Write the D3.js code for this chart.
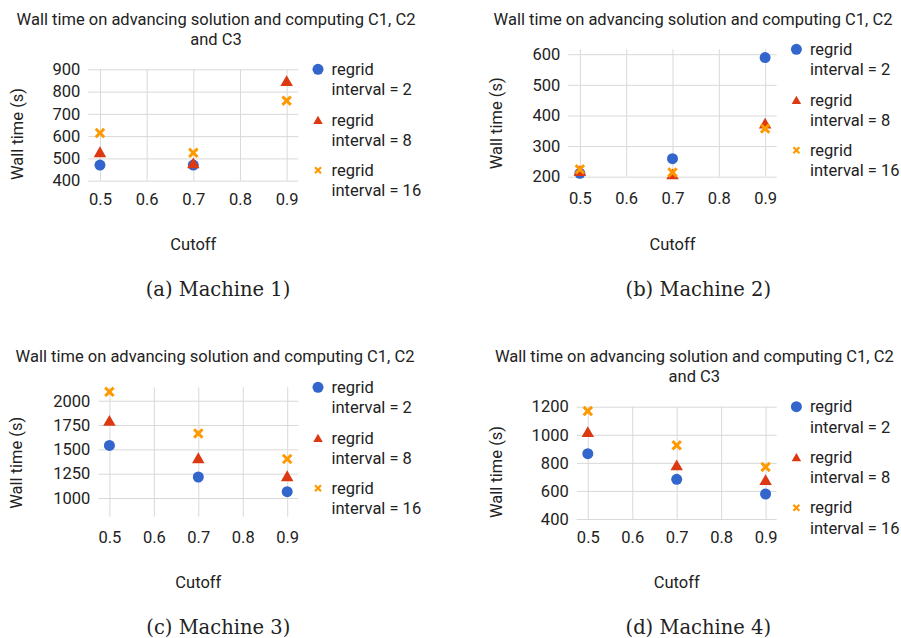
<!DOCTYPE html>
<html>
<head>
<meta charset="utf-8">
<script src="https://cdn.jsdelivr.net/npm/d3@7"></script>
<style>
    body { margin: 0; background: #fff; }
    svg text { font-family: Roboto, sans-serif; fill: #222; }
    svg .caption { font-family: "DejaVu Serif", serif; fill: #222; }
</style>
</head>
<body>
<svg id="chart" width="901" height="638"></svg>
<script>
// Shared x values and legend entries
const cutoffs = [0.5, 0.7, 0.9];
const xTicks = [0.5, 0.6, 0.7, 0.8, 0.9];
const xDomain = [0.475, 0.925];
const legendLines = [
    ["regrid", "interval = 2"],
    ["regrid", "interval = 8"],
    ["regrid", "interval = 16"]
];
const titleLong = ["Wall time on advancing solution and computing C1, C2", "and C3"];
const titleShort = ["Wall time on advancing solution and computing C1, C2"];

// Machine 1
const m1Regrid2 = [470, 470, null];
const m1Regrid8 = [530, 480, 849];
const m1Regrid16 = [614, 525, 759];
const m1Ticks = [400, 500, 600, 700, 800, 900];
const m1Domain = [400, 900];

// Machine 2
const m2Regrid2 = [211, 259, 589];
const m2Regrid8 = [220, 209, 375];
const m2Regrid16 = [224, 214, 357];
const m2Ticks = [200, 300, 400, 500, 600];
const m2Domain = [200, 616];

// Machine 3
const m3Regrid2 = [1541, 1216, 1065];
const m3Regrid8 = [1798, 1414, 1229];
const m3Regrid16 = [2092, 1664, 1401];
const m3Ticks = [1000, 1250, 1500, 1750, 2000];
const m3Domain = [808, 2138];

// Machine 4
const m4Regrid2 = [865, 683, 578];
const m4Regrid8 = [1022, 785, 680];
const m4Regrid16 = [1169, 925, 771];
const m4Ticks = [400, 600, 800, 1000, 1200];
const m4Domain = [400, 1200];

const captions = ["(a) Machine 1)", "(b) Machine 2)", "(c) Machine 3)", "(d) Machine 4)"];

const colors = ["#3366cc", "#dc3912", "#ff9900"];
const fontSize = 16.5;

// triangle centred on its bounding box, size = side^2
const triangleBox = {
    draw(context, size) {
        const s = Math.sqrt(size), h = s * 0.866;
        context.moveTo(0, -h / 2);
        context.lineTo(s / 2, h / 2);
        context.lineTo(-s / 2, h / 2);
        context.closePath();
    }
};

// diagonal cross, size = bounding box width^2
const crossX = {
    draw(context, size) {
        const half = Math.sqrt(size) / 2 * Math.SQRT2;
        const t = half * 0.2, L = half - t;
        const pts = [[-L, -t], [-t, -t], [-t, -L], [t, -L], [t, -t], [L, -t],
                     [L, t], [t, t], [t, L], [-t, L], [-t, t], [-L, t]];
        pts.forEach(([x, y], i) => {
            const px = (x - y) / Math.SQRT2, py = (x + y) / Math.SQRT2;
            if (i) context.lineTo(px, py); else context.moveTo(px, py);
        });
        context.closePath();
    }
};

const markerTypes = [d3.symbolCircle, triangleBox, crossX];
const markerSizes = [Math.PI * 5.5 * 5.5, 12.5 * 12.5, 10.5 * 10.5];
const legendSizes = [Math.PI * 5.5 * 5.5, 9.5 * 9.5, 7.5 * 7.5];

const panels = [
    { series: [m1Regrid2, m1Regrid8, m1Regrid16], ticks: m1Ticks, domain: m1Domain, title: titleLong,
      left: 88.3, right: 298.3, top: 69.3, bottom: 180.7, titleX: 216, titleY: 19,
      yTitleX: 17, yTitleY: 134, xPad: 12.4, cutoffY: 244, capX: 218, capY: 290 },
    { series: [m2Regrid2, m2Regrid8, m2Regrid16], ticks: m2Ticks, domain: m2Domain, title: titleShort,
      left: 568.3, right: 776.7, top: 49.3, bottom: 176.7, titleX: 693, titleY: 19,
      yTitleX: 496.7, yTitleY: 123.3, xPad: 15.7, cutoffY: 244.3, capX: 698.3, capY: 290 },
    { series: [m3Regrid2, m3Regrid8, m3Regrid16], ticks: m3Ticks, domain: m3Domain, title: titleShort,
      left: 98.3, right: 298.3, top: 387.3, bottom: 516.7, titleX: 215, titleY: 356.7,
      yTitleX: 16.7, yTitleY: 462.8, xPad: 14.1, cutoffY: 582.3, capX: 218.3, capY: 627.7 },
    { series: [m4Regrid2, m4Regrid8, m4Regrid16], ticks: m4Ticks, domain: m4Domain, title: titleLong,
      left: 576.7, right: 776.7, top: 406.7, bottom: 519, titleX: 694.3, titleY: 356.7,
      yTitleX: 496.7, yTitleY: 472, xPad: 11.8, cutoffY: 582.3, capX: 698.3, capY: 627.7 }
];

const svg = d3.select("#chart");

panels.forEach((p, index) => {
    const g = svg.append("g");

    let x = d3.scaleLinear().domain(xDomain).range([p.left, p.right]);
    let y = d3.scaleLinear().domain(p.domain).range([p.bottom, p.top]);

    // horizontal gridlines + y tick labels
    g.append("g")
        .attr("transform", `translate(${p.left}, 0)`)
        .call(d3.axisLeft(y).tickValues(p.ticks).tickFormat(d3.format("d"))
            .tickSize(-(p.right - p.left)).tickPadding(8))
        .call(a => a.select(".domain").remove())
        .call(a => a.selectAll("line").attr("stroke", "#d9d9d9"))
        .call(a => a.selectAll("text").attr("fill", "#222").style("font-size", fontSize + "px")
            .style("font-family", "Roboto, sans-serif"));

    // vertical gridlines + x tick labels
    g.append("g")
        .attr("transform", `translate(0, ${p.bottom})`)
        .call(d3.axisBottom(x).tickValues(xTicks).tickFormat(d3.format(".1f"))
            .tickSize(-(p.bottom - p.top)).tickPadding(p.xPad))
        .call(a => a.select(".domain").remove())
        .call(a => a.selectAll("line").attr("stroke", "#d9d9d9"))
        .call(a => a.selectAll("text").attr("fill", "#222").style("font-size", fontSize + "px")
            .style("font-family", "Roboto, sans-serif"));

    // title
    p.title.forEach((line, i) => {
        g.append("text")
            .attr("x", p.titleX)
            .attr("y", p.titleY + i * 20)
            .attr("dy", "0.35em")
            .attr("text-anchor", "middle")
            .style("font-size", fontSize + "px")
            .text(line);
    });

    // axis titles
    g.append("text")
        .attr("transform", `translate(${p.yTitleX}, ${p.yTitleY}) rotate(-90)`)
        .attr("dy", "0.35em")
        .attr("text-anchor", "middle")
        .style("font-size", fontSize + "px")
        .text("Wall time (s)");

    g.append("text")
        .attr("x", (p.left + p.right) / 2)
        .attr("y", p.cutoffY)
        .attr("dy", "0.35em")
        .attr("text-anchor", "middle")
        .style("font-size", fontSize + "px")
        .text("Cutoff");

    // points
    p.series.forEach((values, s) => {
        const pts = cutoffs.map((c, i) => [c, values[i]]).filter(d => d[1] != null);
        g.append("g").selectAll("path")
            .data(pts)
            .enter()
            .append("path")
            .attr("transform", d => `translate(${x(d[0])}, ${y(d[1])})`)
            .attr("d", d3.symbol().type(markerTypes[s]).size(markerSizes[s]))
            .attr("fill", colors[s]);
    });

    // legend
    const legendX = p.right + 19.7;
    legendLines.forEach((lines, s) => {
        const ly = p.top + s * 50.5;
        g.append("path")
            .attr("transform", `translate(${legendX}, ${ly})`)
            .attr("d", d3.symbol().type(markerTypes[s]).size(legendSizes[s]))
            .attr("fill", colors[s]);
        lines.forEach((line, i) => {
            g.append("text")
                .attr("x", legendX + 13.5)
                .attr("y", ly + i * 20.3)
                .attr("dy", "0.35em")
                .style("font-size", fontSize + "px")
                .text(line);
        });
    });

    // caption
    g.append("text")
        .attr("class", "caption")
        .attr("x", p.capX)
        .attr("y", p.capY)
        .attr("dy", "0.33em")
        .attr("text-anchor", "middle")
        .style("font-size", "19.5px")
        .text(captions[index]);
});
</script>
</body>
</html>
